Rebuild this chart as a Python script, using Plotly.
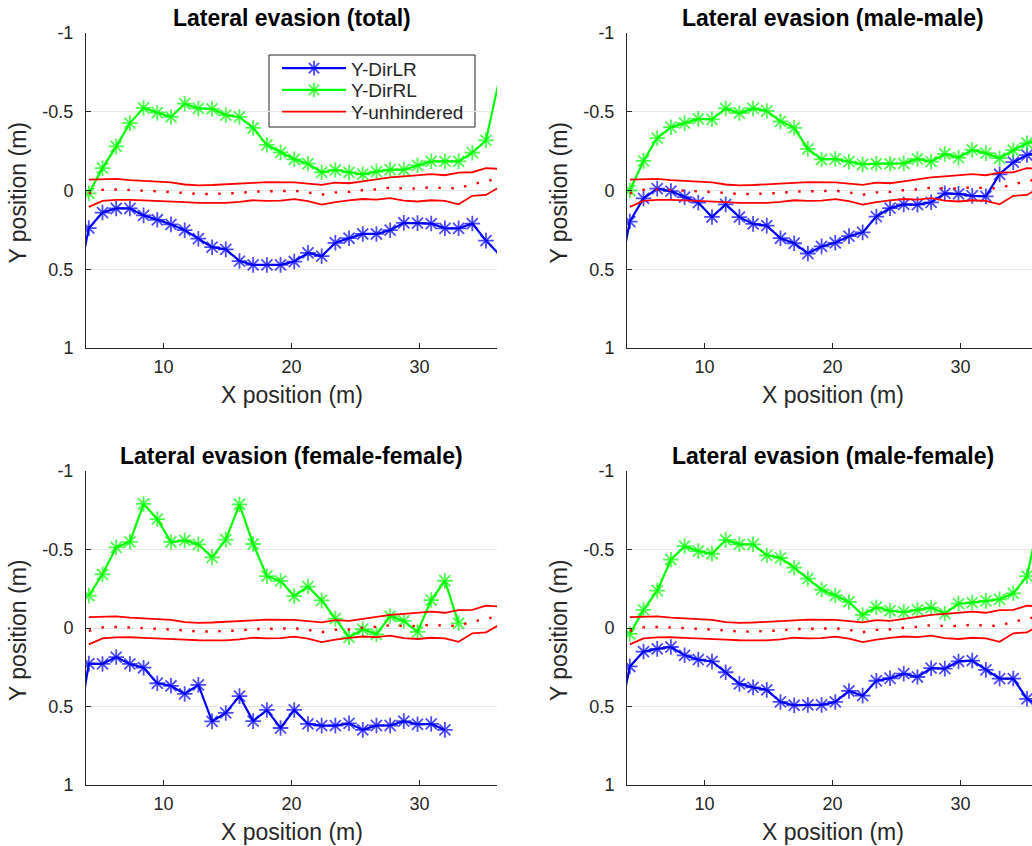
import plotly.graph_objects as go

# ---------------- data ----------------
X_POS = [3.10, 4.17, 5.24, 6.31, 7.38, 8.45, 9.52, 10.59, 11.66, 12.73, 13.80,
         14.87, 15.94, 17.01, 18.08, 19.15, 20.22, 21.29, 22.36, 23.43, 24.50,
         25.57, 26.64, 27.71, 28.78, 29.85, 30.92, 31.99, 33.06, 34.13, 35.20, 36.27]

TITLES = ["Lateral evasion (total)", "Lateral evasion (male-male)",
          "Lateral evasion (female-female)", "Lateral evasion (male-female)"]

SERIES_NAMES = ["Y-DirLR", "Y-DirRL", "Y-unhindered"]

X_TICKS = [10, 20, 30]
Y_TICKS = [-1, -0.5, 0, 0.5, 1]
Y_TICK_LABELS = ["-1", "-0.5", "0", "0.5", "1"]

BLUE_TOTAL = [0.68, 0.239, 0.14, 0.114, 0.114, 0.158, 0.186, 0.215, 0.252, 0.306, 0.36,
              0.374, 0.448, 0.472, 0.472, 0.472, 0.451, 0.396, 0.417, 0.332, 0.303, 0.276,
              0.276, 0.252, 0.205, 0.207, 0.21, 0.24, 0.24, 0.21, 0.318, 0.41]
GREEN_TOTAL = [None, 0.018, -0.142, -0.28, -0.428, -0.524, -0.494, -0.467, -0.551, -0.521,
               -0.518, -0.479, -0.467, -0.397, -0.29, -0.242, -0.198, -0.17, -0.115, -0.13,
               -0.115, -0.103, -0.12, -0.132, -0.132, -0.16, -0.185, -0.185, -0.185, -0.24,
               -0.318, -0.72]

BLUE_MM = [0.65, 0.197, 0.05, -0.012, 0.004, 0.042, 0.077, 0.168, 0.088, 0.169, 0.212,
           0.223, 0.303, 0.335, 0.4, 0.355, 0.332, 0.29, 0.266, 0.166, 0.112, 0.088, 0.09,
           0.075, 0.018, 0.021, 0.034, 0.037, -0.103, -0.18, -0.225, -0.25]
GREEN_MM = [None, 0.0, -0.188, -0.333, -0.402, -0.428, -0.455, -0.452, -0.521, -0.492,
            -0.521, -0.505, -0.439, -0.398, -0.264, -0.197, -0.2, -0.183, -0.166, -0.17,
            -0.17, -0.172, -0.2, -0.183, -0.232, -0.209, -0.258, -0.237, -0.205, -0.256,
            -0.3, -0.33]

BLUE_FF = [0.76, 0.227, 0.229, 0.185, 0.229, 0.253, 0.352, 0.368, 0.42, 0.362, 0.595,
           0.541, 0.434, 0.593, 0.522, 0.637, 0.522, 0.611, 0.622, 0.622, 0.607, 0.649,
           0.621, 0.621, 0.593, 0.613, 0.611, 0.649, None, None, None, None]
GREEN_FF = [None, -0.206, -0.342, -0.514, -0.549, -0.79, -0.693, -0.548, -0.558, -0.533,
            -0.45, -0.563, -0.788, -0.535, -0.33, -0.3, -0.203, -0.264, -0.176, -0.06,
            0.06, 0.008, 0.04, -0.075, -0.045, 0.025, -0.178, -0.301, -0.03, None, None, None]

BLUE_MF = [0.68, 0.245, 0.15, 0.133, 0.121, 0.174, 0.201, 0.213, 0.282, 0.356, 0.378,
           0.394, 0.471, 0.492, 0.49, 0.49, 0.471, 0.401, 0.431, 0.336, 0.32, 0.291, 0.312,
           0.256, 0.259, 0.213, 0.208, 0.267, 0.322, 0.322, 0.451, 0.5]
GREEN_MF = [None, 0.038, -0.115, -0.238, -0.435, -0.521, -0.49, -0.473, -0.561, -0.533,
            -0.533, -0.463, -0.447, -0.384, -0.314, -0.244, -0.207, -0.166, -0.083, -0.132,
            -0.11, -0.102, -0.115, -0.13, -0.092, -0.155, -0.162, -0.173, -0.183, -0.221,
            -0.33, -0.74]

UNH_UPPER = [None, -0.069, -0.073, -0.074, -0.066, -0.062, -0.058, -0.052, -0.038, -0.033,
             -0.035, -0.038, -0.041, -0.048, -0.053, -0.054, -0.052, -0.044, -0.036, -0.05,
             -0.046, -0.058, -0.072, -0.083, -0.09, -0.096, -0.104, -0.097, -0.114, -0.116,
             -0.142, -0.137]
UNH_LOWER = [None, 0.104, 0.066, 0.06, 0.059, 0.063, 0.068, 0.072, 0.074, 0.078, 0.08,
             0.079, 0.072, 0.062, 0.066, 0.064, 0.055, 0.068, 0.09, 0.074, 0.063, 0.054,
             0.058, 0.048, 0.064, 0.07, 0.062, 0.066, 0.088, 0.034, 0.028, -0.022]
UNH_MEAN = [None, 0.018, -0.004, -0.007, -0.004, 0.0, 0.005, 0.01, 0.018, 0.022, 0.022,
            0.02, 0.016, 0.007, 0.006, 0.005, 0.002, 0.012, 0.027, 0.012, 0.009, -0.002,
            -0.007, -0.018, -0.013, -0.013, -0.021, -0.015, -0.013, -0.041, -0.057, -0.08]

PANELS = [
    (TITLES[0], BLUE_TOTAL, GREEN_TOTAL),
    (TITLES[1], BLUE_MM, GREEN_MM),
    (TITLES[2], BLUE_FF, GREEN_FF),
    (TITLES[3], BLUE_MF, GREEN_MF),
]

# ---------------- layout geometry (pixels) ----------------
W, H = 1032, 846
PX_PER_M = 12.8
X_DOM_PX = [(86, 497), (627, 1032), (86, 497), (627, 1032)]
Y_DOM_PX = [(33, 348), (33, 348), (471, 785), (471, 785)]
X_START = 3.95
PANEL_W = 411
LEG_BOX = (269, 55, 475, 127)
LEG_ROWS = [68.3, 90.0, 111.7]

AX_COL = "#262626"
FONT = "Liberation Sans, Arial, Helvetica, sans-serif"
BLUE, GREEN, RED = "#0000ff", "#00ff00", "#ff0000"
MARKER_SIZE = 13


def fx(p):
    return p / W


def fy(p):
    return 1 - p / H


def marker_sizes(x_end):
    # MATLAB-like clipping: markers whose point lies outside the axes are not drawn
    return [MARKER_SIZE if X_START <= x <= x_end else 0 for x in X_POS]


fig = go.Figure()

for i, (title, blue, green) in enumerate(PANELS):
    n = i + 1
    xa = "x" if n == 1 else f"x{n}"
    ya = "y" if n == 1 else f"y{n}"
    leg = (n == 1)
    x0, x1 = X_DOM_PX[i]
    x_end = X_START + (x1 - x0) / PX_PER_M
    sizes = marker_sizes(x_end)
    fig.add_trace(go.Scatter(
        x=X_POS, y=blue, xaxis=xa, yaxis=ya, name=SERIES_NAMES[0],
        legend="legend", mode="lines+markers", showlegend=leg, connectgaps=False,
        line=dict(color=BLUE, width=2.2),
        marker=dict(symbol="asterisk-open", size=sizes, color=BLUE,
                    line=dict(width=1.8, color=BLUE))))
    fig.add_trace(go.Scatter(
        x=X_POS, y=green, xaxis=xa, yaxis=ya, name=SERIES_NAMES[1],
        legend="legend2", mode="lines+markers", showlegend=leg, connectgaps=False,
        line=dict(color=GREEN, width=2.2),
        marker=dict(symbol="asterisk-open", size=sizes, color=GREEN,
                    line=dict(width=1.8, color=GREEN))))
    fig.add_trace(go.Scatter(
        x=X_POS, y=UNH_UPPER, xaxis=xa, yaxis=ya, name=SERIES_NAMES[2],
        legend="legend3", mode="lines", showlegend=leg,
        line=dict(color=RED, width=1.8)))
    fig.add_trace(go.Scatter(
        x=X_POS, y=UNH_MEAN, xaxis=xa, yaxis=ya, name=SERIES_NAMES[2],
        mode="lines", showlegend=False,
        line=dict(color=RED, width=2.4, dash="2.5px,10.5px")))
    fig.add_trace(go.Scatter(
        x=X_POS, y=UNH_LOWER, xaxis=xa, yaxis=ya, name=SERIES_NAMES[2],
        mode="lines", showlegend=False, line=dict(color=RED, width=1.8)))


def legend_row(row_y):
    return dict(x=fx(LEG_BOX[0] + 8), y=fy(row_y), xanchor="left", yanchor="middle",
                bgcolor="rgba(0,0,0,0)", borderwidth=0,
                font=dict(size=19, color=AX_COL, family=FONT),
                itemwidth=64)


layout = dict(
    width=W, height=H,
    margin=dict(l=0, r=0, t=0, b=0, pad=0, autoexpand=False),
    paper_bgcolor="white", plot_bgcolor="white",
    font=dict(family=FONT, color=AX_COL),
    hovermode=False,
    legend=legend_row(LEG_ROWS[0]),
    legend2=legend_row(LEG_ROWS[1]),
    legend3=legend_row(LEG_ROWS[2]),
    shapes=[dict(type="rect", xref="paper", yref="paper",
                 x0=fx(LEG_BOX[0]), x1=fx(LEG_BOX[2]),
                 y0=fy(LEG_BOX[3]), y1=fy(LEG_BOX[1]),
                 line=dict(color=AX_COL, width=1), fillcolor="white",
                 layer="between")],
)

annotations = []
for i in range(4):
    n = i + 1
    xk = "xaxis" if n == 1 else f"xaxis{n}"
    yk = "yaxis" if n == 1 else f"yaxis{n}"
    x0, x1 = X_DOM_PX[i]
    y0, y1 = Y_DOM_PX[i]
    layout[xk] = dict(
        domain=[fx(x0), fx(x1)],
        range=[X_START, X_START + (x1 - x0) / PX_PER_M],
        anchor="y" if n == 1 else f"y{n}", automargin=False,
        showline=True, linecolor=AX_COL, linewidth=1,
        ticks="inside", ticklen=5, tickcolor=AX_COL, tickwidth=1,
        tickvals=X_TICKS, tickfont=dict(size=18, color=AX_COL, family=FONT),
        ticklabelstandoff=2,
        showgrid=False, zeroline=False, mirror=False, fixedrange=True)
    layout[yk] = dict(
        domain=[fy(y1), fy(y0)], range=[1, -1],
        anchor="x" if n == 1 else f"x{n}", automargin=False,
        showline=True, linecolor=AX_COL, linewidth=1,
        ticks="inside", ticklen=5, tickcolor=AX_COL, tickwidth=1,
        tickvals=Y_TICKS, ticktext=Y_TICK_LABELS,
        tickfont=dict(size=18, color=AX_COL, family=FONT),
        ticklabelstandoff=8,
        showgrid=True, gridcolor="#e6e6e6", gridwidth=1,
        zeroline=False, mirror=False, fixedrange=True)

    cx = x0 + PANEL_W / 2
    # title
    annotations.append(dict(
        text=f"<b>{PANELS[i][0]}</b>", x=fx(cx), y=fy(y0 - 15),
        xref="paper", yref="paper", xanchor="center", yanchor="middle",
        showarrow=False, font=dict(size=23, color="black", family=FONT)))
    # x axis title
    annotations.append(dict(
        text="X position (m)", x=fx(cx), y=fy(y1 + 47),
        xref="paper", yref="paper", xanchor="center", yanchor="middle",
        showarrow=False, font=dict(size=23, color=AX_COL, family=FONT)))
    # y axis title
    annotations.append(dict(
        text="Y position (m)", x=fx(x0 - 68), y=fy((y0 + y1) / 2 + 3),
        xref="paper", yref="paper", xanchor="center", yanchor="middle",
        textangle=-90, showarrow=False,
        font=dict(size=23, color=AX_COL, family=FONT)))

layout["annotations"] = annotations
fig.update_layout(**layout)

fig.write_html("out.html",
               config={"displayModeBar": False},
               post_script="document.body.style.margin='0px';"
                           "document.body.style.overflow='hidden';")
